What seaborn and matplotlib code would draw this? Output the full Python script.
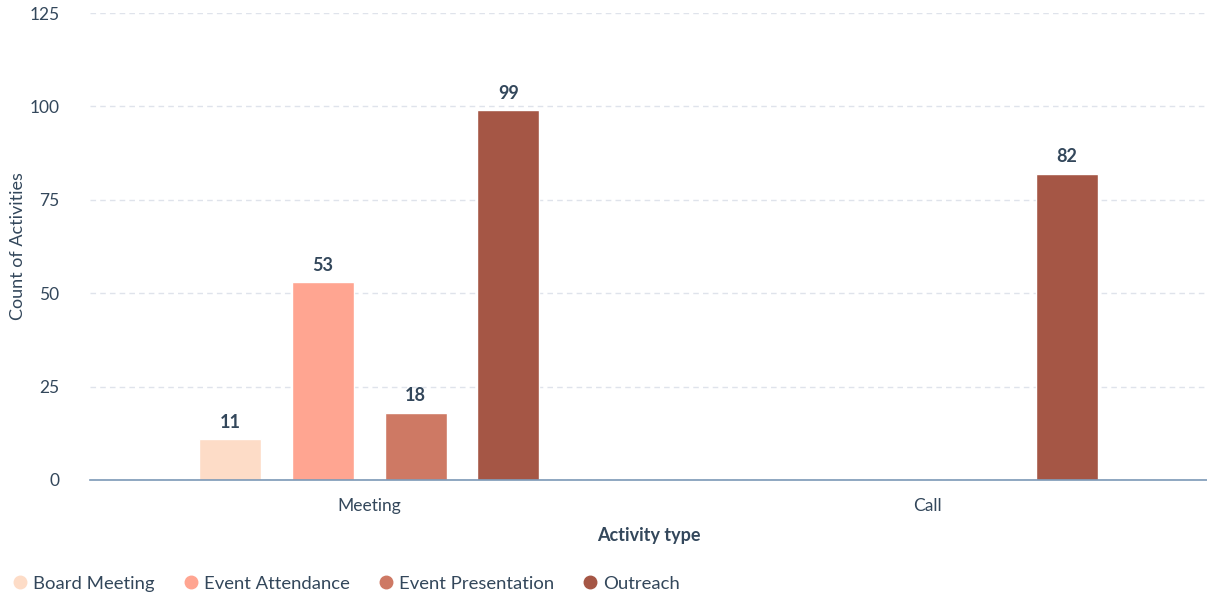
import matplotlib
matplotlib.use("Agg")
import matplotlib.pyplot as plt
import seaborn as sns
import pandas as pd
from matplotlib.lines import Line2D

# --- data ---
activity_types = ["Meeting", "Meeting", "Meeting", "Meeting", "Call"]
categories = ["Board Meeting", "Event Attendance", "Event Presentation", "Outreach", "Outreach"]
counts = [11, 53, 18, 99, 82]

hue_order = ["Board Meeting", "Event Attendance", "Event Presentation", "Outreach"]
x_order = ["Meeting", "Call"]
colors = ["#FDDCC7", "#FFA591", "#CE7964", "#A55645"]
y_ticks = [0, 25, 50, 75, 100, 125]

TEXT = "#33475B"

df = pd.DataFrame({"Activity type": activity_types, "Type": categories, "Count": counts})

sns.set_style("white")
plt.rcParams["font.family"] = ["Lato", "DejaVu Sans"]

fig = plt.figure(figsize=(12.07, 5.96), dpi=100)
ax = fig.add_axes([90 / 1207, 116 / 596, 1117 / 1207, 467 / 596])

sns.barplot(data=df, x="Activity type", y="Count", hue="Type",
            order=x_order, hue_order=hue_order, palette=colors,
            width=0.664, gap=0.33, saturation=1, legend=False, ax=ax)

for cont in ax.containers:
    ax.bar_label(cont, fmt="%d", padding=6, fontsize=13, fontweight="bold", color=TEXT)

ax.set_ylim(0, 125)
ax.set_yticks(y_ticks)
ax.yaxis.grid(True, linestyle=(0, (4, 3)), color="#DFE3EB", linewidth=1)
ax.set_axisbelow(True)
for s in ["top", "right", "left"]:
    ax.spines[s].set_visible(False)
ax.spines["bottom"].set_color("#7C98B6")
ax.spines["bottom"].set_linewidth(1.2)

ax.tick_params(axis="both", length=0, labelsize=12.5, labelcolor=TEXT)
ax.tick_params(axis="y", pad=22)
ax.tick_params(axis="x", pad=13)
ax.set_xlabel("Activity type", fontsize=13, fontweight="bold", color=TEXT, labelpad=9)
ax.set_ylabel("Count of Activities", fontsize=13, color=TEXT)
ax.yaxis.set_label_coords(-0.057, 0.5)

handles = [Line2D([0], [0], marker="o", linestyle="", markersize=9,
                  markerfacecolor=c, markeredgecolor=c) for c in colors]
fig.legend(handles, hue_order, loc="lower left", bbox_to_anchor=(-0.006, -0.021),
           ncol=4, frameon=False, fontsize=13.3, handletextpad=0.1, handlelength=1.2,
           columnspacing=1.35, labelcolor=TEXT)

fig.savefig("out.png", dpi=100)
